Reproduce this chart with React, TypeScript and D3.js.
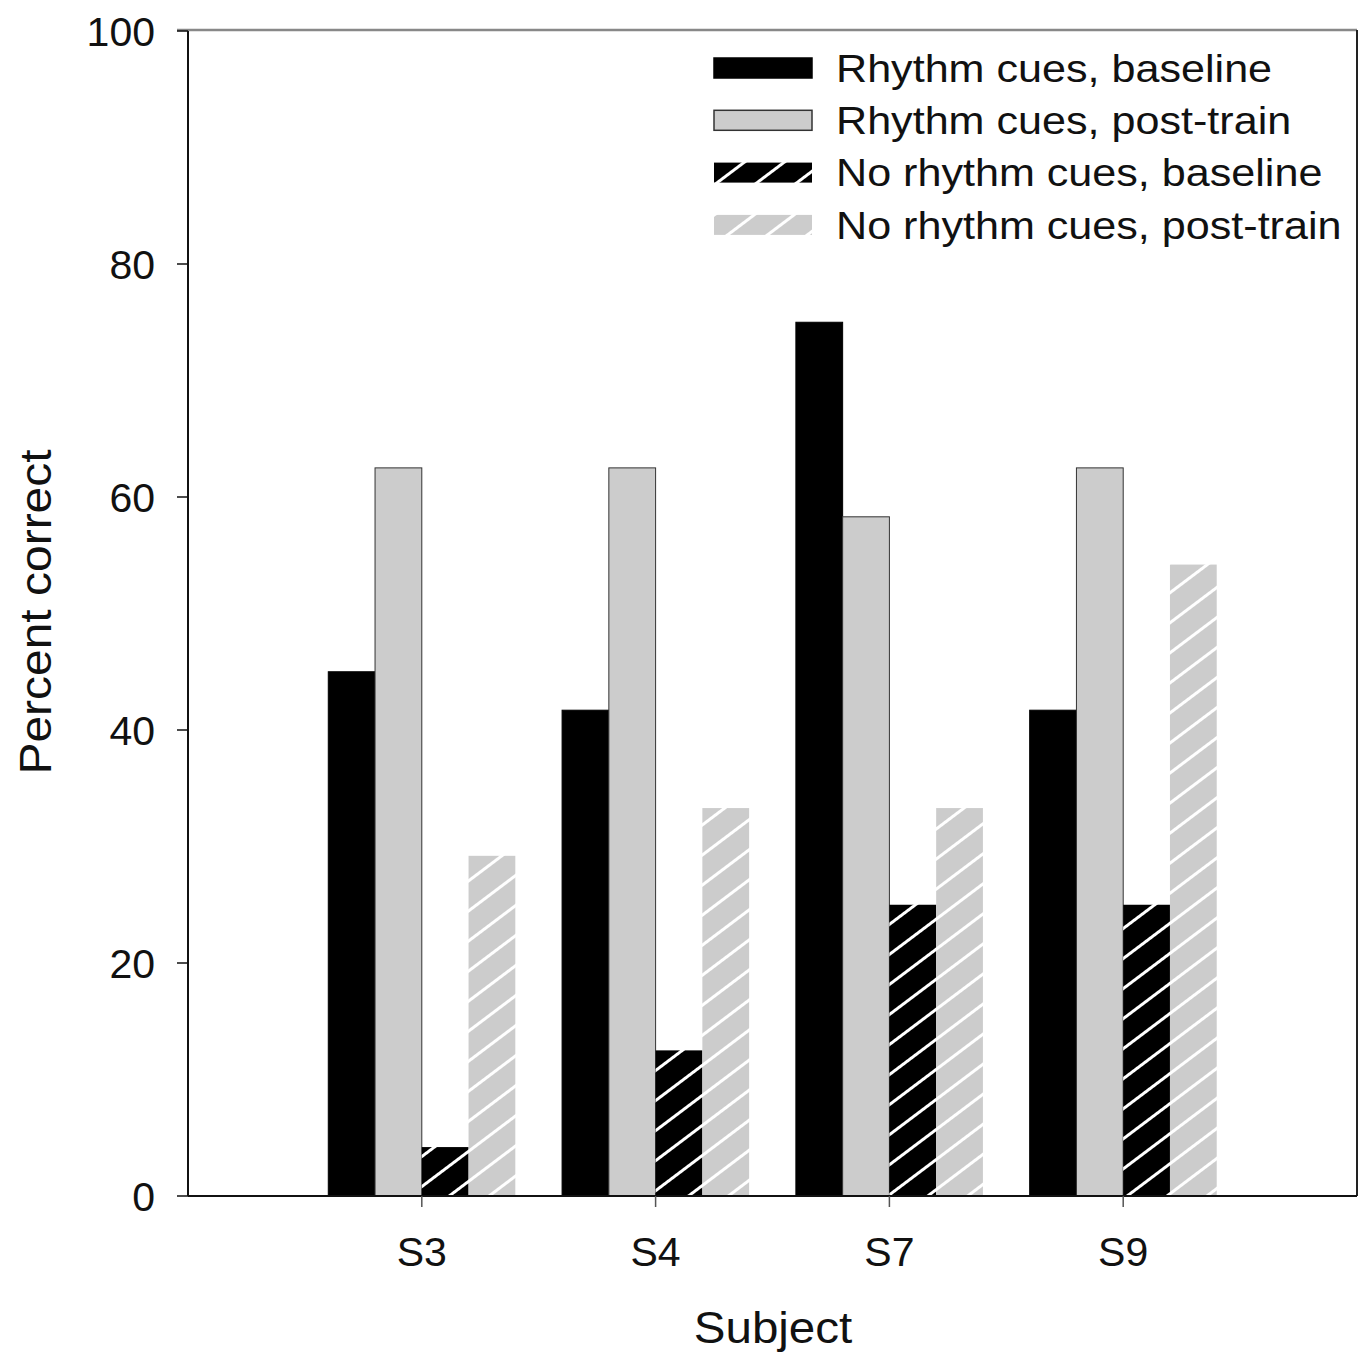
import React from "react";
import * as d3 from "d3";

const subjects = ["S3", "S4", "S7", "S9"];
const seriesNames = [
  "Rhythm cues, baseline",
  "Rhythm cues, post-train",
  "No rhythm cues, baseline",
  "No rhythm cues, post-train",
];
const rhythmBaseline = [45, 41.7, 75, 41.7];
const rhythmPost = [62.5, 62.5, 58.3, 62.5];
const noRhythmBaseline = [4.2, 12.5, 25, 25];
const noRhythmPost = [29.2, 33.3, 33.3, 54.2];
const yTicks = [0, 20, 40, 60, 80, 100];

const seriesValues = [rhythmBaseline, rhythmPost, noRhythmBaseline, noRhythmPost];
const fills = ["#000000", "#cccccc", "url(#hatchBlack)", "url(#hatchGray)"];
const strokes = ["#000000", "#333333", "none", "none"];

const W = 1366;
const H = 1355;
const left = 188;
const right = 1357;
const top = 31;
const bottom = 1196;
const font = "'Liberation Sans', Arial, Helvetica, sans-serif";

export default function App() {
  const x = d3.scaleLinear().domain([0, 5]).range([left, right]);
  const y = d3.scaleLinear().domain([0, 100]).range([bottom, top]);
  const barW = x(0.2) - x(0);

  return (
    <svg width={W} height={H} style={{ position: "absolute", left: 0, top: 0, background: "#fff" }}>
      <defs>
        <pattern id="hatchBlack" patternUnits="userSpaceOnUse" width={12} height={24} patternTransform="rotate(-37)">
          <rect width={12} height={24} fill="#000" />
          <line x1={0} y1={1.5} x2={12} y2={1.5} stroke="#fff" strokeWidth={3} />
        </pattern>
        <pattern id="hatchGray" patternUnits="userSpaceOnUse" width={12} height={24} patternTransform="rotate(-37)">
          <rect width={12} height={24} fill="#cccccc" />
          <line x1={0} y1={1.5} x2={12} y2={1.5} stroke="#fff" strokeWidth={3} />
        </pattern>
      </defs>

      {/* bars */}
      {subjects.map((s, i) => (
        <g key={s}>
          {seriesValues.map((vals, j) => {
            const x0 = x(i + 1) - 2 * barW + j * barW;
            return (
              <rect
                key={j}
                x={x0}
                y={y(vals[i])}
                width={barW}
                height={y(0) - y(vals[i])}
                fill={fills[j]}
                stroke={strokes[j]}
                strokeWidth={strokes[j] === "none" ? 0 : 1}
              />
            );
          })}
        </g>
      ))}

      {/* frame */}
      <line x1={177} y1={top - 1} x2={right} y2={top - 1} stroke="#888" strokeWidth={2.5} />
      <line x1={right} y1={top - 1} x2={right} y2={bottom} stroke="#222" strokeWidth={2} />
      <line x1={left} y1={top} x2={left} y2={bottom} stroke="#111" strokeWidth={2} />
      <line x1={left} y1={bottom} x2={right} y2={bottom} stroke="#111" strokeWidth={2} />

      {/* y ticks */}
      {yTicks.map((t) => (
        <g key={t}>
          <line x1={177} x2={left} y1={y(t)} y2={y(t)} stroke="#111" strokeWidth={1.5} />
          <text x={155} y={y(t)} dy="0.36em" textAnchor="end" fontFamily={font} fontSize={41} fill="#111">
            {t}
          </text>
        </g>
      ))}

      {/* x ticks */}
      {subjects.map((s, i) => (
        <g key={s}>
          <line x1={x(i + 1)} x2={x(i + 1)} y1={bottom} y2={bottom + 11} stroke="#555" strokeWidth={1.5} />
          <text x={x(i + 1)} y={1266} textAnchor="middle" fontFamily={font} fontSize={41} fill="#111">
            {s}
          </text>
        </g>
      ))}

      <text
        transform="translate(773, 1343) scale(1.08, 1)"
        textAnchor="middle"
        fontFamily={font}
        fontSize={44}
        fill="#111"
      >
        Subject
      </text>
      <text
        transform="translate(51, 612) rotate(-90) scale(1.09, 1)"
        textAnchor="middle"
        fontFamily={font}
        fontSize={44}
        fill="#111"
      >
        Percent correct
      </text>

      {/* legend */}
      {seriesNames.map((n, j) => {
        const cy = 68 + j * 52.3;
        return (
          <g key={n}>
            <rect
              x={714}
              y={cy - 10}
              width={98}
              height={20}
              fill={fills[j]}
              stroke={strokes[j]}
              strokeWidth={strokes[j] === "none" ? 0 : 1.5}
            />
            <text
              transform={`translate(836, ${cy}) scale(1.135, 1)`}
              dy="0.36em"
              fontFamily={font}
              fontSize={38}
              fill="#111"
            >
              {n}
            </text>
          </g>
        );
      })}
    </svg>
  );
}
